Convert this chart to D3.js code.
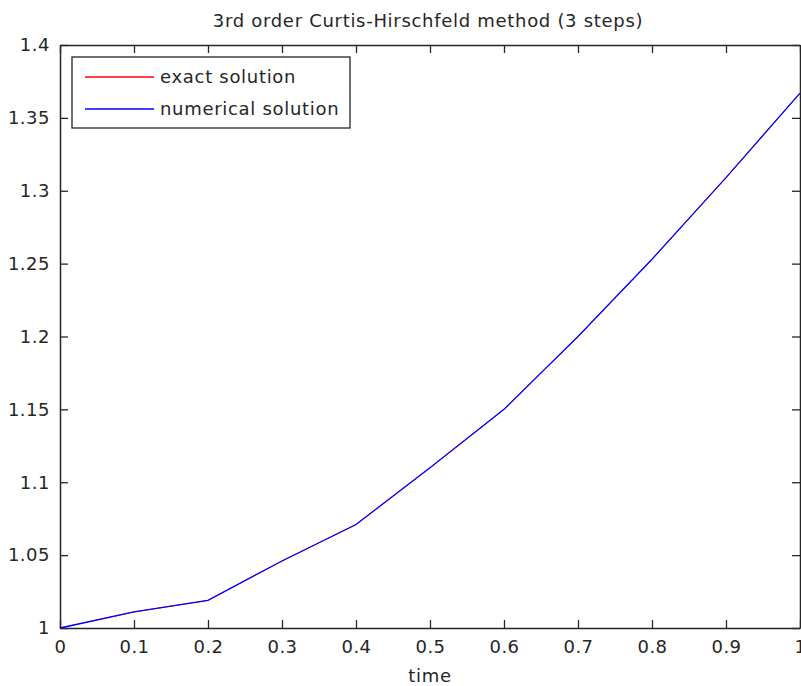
<!DOCTYPE html>
<html>
<head>
<meta charset="utf-8">
<script src="https://d3js.org/d3.v7.min.js"></script>
<style>
  body { margin: 0; background: #fff; }
  svg { display: block; }
  text { font-family: "DejaVu Sans", sans-serif; fill: #262626; }
</style>
</head>
<body>
<svg width="801" height="686"></svg>
<script>
// data
const time = [0, 0.1, 0.2, 0.3, 0.4, 0.5, 0.6, 0.7, 0.8, 0.9, 1.0];
const exactValues = [1.000, 1.011, 1.019, 1.046, 1.071, 1.110, 1.150, 1.200, 1.253, 1.309, 1.367];
const numericalValues = [1.000, 1.011, 1.019, 1.046, 1.071, 1.110, 1.150, 1.200, 1.253, 1.309, 1.367];
const xTicks = [0, 0.1, 0.2, 0.3, 0.4, 0.5, 0.6, 0.7, 0.8, 0.9, 1];
const yTicks = [1, 1.05, 1.1, 1.15, 1.2, 1.25, 1.3, 1.35, 1.4];
const seriesNames = ["exact solution", "numerical solution"];
const seriesColors = ["#ff0000", "#0000ff"];

const svg = d3.select("svg");
const pLeft = 60, pRight = 800, pTop = 45, pBottom = 628;
const fs = 18;
const font = "DejaVu Sans, sans-serif";

const x = d3.scaleLinear().domain([0, 1]).range([pLeft, pRight]);
const y = d3.scaleLinear().domain([1, 1.4]).range([pBottom, pTop]);

// axes with inward ticks on all four sides
const fmt = d => String(+d.toFixed(2));
svg.append("g").attr("transform", `translate(0,${pBottom})`)
  .call(d3.axisBottom(x).tickValues(xTicks).tickSizeInner(-8).tickSizeOuter(0).tickPadding(12).tickFormat(fmt));
svg.append("g").attr("transform", `translate(0,${pTop})`)
  .call(d3.axisTop(x).tickValues(xTicks).tickSizeInner(-8).tickSizeOuter(0).tickFormat(""));
svg.append("g").attr("transform", `translate(${pLeft},0)`)
  .call(d3.axisLeft(y).tickValues(yTicks).tickSizeInner(-8).tickSizeOuter(0).tickPadding(10).tickFormat(fmt));
svg.append("g").attr("transform", `translate(${pRight},0)`)
  .call(d3.axisRight(y).tickValues(yTicks).tickSizeInner(-8).tickSizeOuter(0).tickFormat(""));

svg.selectAll(".domain").attr("stroke", "#262626").attr("stroke-width", 1.5);
svg.selectAll(".tick line").attr("stroke", "#262626").attr("stroke-width", 1.3);
svg.selectAll(".tick text").attr("font-size", fs).attr("font-family", font)
  .attr("fill", "#262626").attr("letter-spacing", 0.5);

// series: exact drawn first, numerical drawn on top of it
const line = d3.line().x((d, i) => x(time[i])).y(d => y(d));
[exactValues, numericalValues].forEach((vals, k) => {
  svg.append("path").datum(vals)
    .attr("d", line)
    .attr("fill", "none")
    .attr("stroke", seriesColors[k])
    .attr("stroke-width", k === 0 ? 0.8 : 1.3);
});

// title and label
svg.append("text").attr("x", 428).attr("y", 27).attr("text-anchor", "middle")
  .attr("font-size", fs).attr("letter-spacing", 0.7)
  .text("3rd order Curtis-Hirschfeld method (3 steps)");
svg.append("text").attr("x", 430).attr("y", 682).attr("text-anchor", "middle")
  .attr("font-size", fs).attr("letter-spacing", 0.7).text("time");

// legend
const lg = svg.append("g");
lg.append("rect").attr("x", 72).attr("y", 57).attr("width", 278).attr("height", 71)
  .attr("fill", "#fff").attr("stroke", "#262626").attr("stroke-width", 1.3);
seriesNames.forEach((name, i) => {
  const yy = 77 + i * 32;
  lg.append("line").attr("x1", 85).attr("x2", 154).attr("y1", yy).attr("y2", yy)
    .attr("stroke", seriesColors[i]).attr("stroke-width", 1.3);
  lg.append("text").attr("x", 160).attr("y", yy + 6).attr("font-size", fs)
    .attr("letter-spacing", 0.7).text(name);
});
</script>
</body>
</html>
